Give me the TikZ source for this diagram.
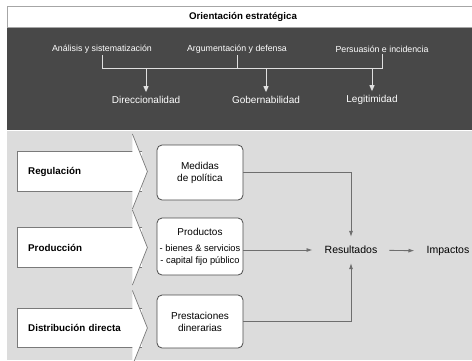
\documentclass[tikz,border=0pt]{standalone}
\usepackage{fontspec}
\setmainfont{Liberation Sans}
\usepackage{xcolor}
\definecolor{panedark}{HTML}{484848}
\definecolor{panelight}{HTML}{DCDCDC}
\definecolor{edgegray}{HTML}{7A7A7A}
\definecolor{linegray}{HTML}{6E6E6E}
\usepackage{tikz}
\usetikzlibrary{arrows.meta,positioning,calc}
\tikzset{
  ttl/.style={font=\fontsize{9.7}{11}\selectfont\bfseries, inner sep=2pt},
  tlbl/.style={text=white, font=\fontsize{8.8}{10}\selectfont, inner sep=2pt},
  olbl/.style={text=white, font=\fontsize{10}{12}\selectfont, inner sep=4pt},
  shaft/.style={fill=white, anchor=west, minimum height=39pt, text width=103pt,
                inner xsep=11pt, align=left, font=\fontsize{9.8}{11}\selectfont\bfseries},
  chev/.style={draw=edgegray, line width=0.7pt},
  rbox/.style={draw=black!70, fill=white, rounded corners=5pt, minimum width=86pt,
               inner xsep=2pt, align=center, line width=0.8pt,
               font=\fontsize{10}{12}\selectfont},
  plain/.style={font=\fontsize{10.5}{12}\selectfont, inner xsep=12pt, inner ysep=9pt},
  wline/.style={draw=white!88!black, line width=1pt},
  warr/.style={wline, -{Triangle[length=6pt,width=5pt]}},
  ar/.style={-{Latex[length=6pt,width=4pt]}, draw=linegray, line width=0.9pt},
}

\begin{document}
\begin{tikzpicture}[x=1pt, y=-1pt]
  \useasboundingbox (0,0) rectangle (472,360);
  % panels
  \fill[panedark] (7,27) rectangle (472,130);
  \fill[panelight] (7,131) rectangle (472,360);
  \draw[draw=black!35, fill=white, line width=0.7pt] (7,6) rectangle (473,27);

  % strategic orientation
  \node[ttl] (orient) at (243,17) {Orientación estratégica};
  \node[tlbl] (analisis) at (102,49) {Análisis y sistematización};
  \node[tlbl] (argum) at (237,49) {Argumentación y defensa};
  \node[tlbl] (persua) at (382,49) {Persuasión e incidencia};
  \node[olbl] (direc) at (146,100) {Direccionalidad};
  \node[olbl] (gober) at (266,100) {Gobernabilidad};
  \node[olbl] (legit) at (372,100) {Legitimidad};
  \coordinate (bar) at (0,68);
  \draw[wline] (analisis.south) -- (analisis.south |- bar) -- (persua.south |- bar) -- (persua.south);
  \draw[wline] (argum.south) -- (argum.south |- bar);
  \draw[warr] (direc.north |- bar) -- (direc.north);
  \draw[warr] (gober.north |- bar) -- (gober.north);
  \draw[warr] (legit.north |- bar) -- (legit.north);

  % instruments
  \node[shaft] (regul) at (17,171.5) {Regulación};
  \node[shaft] (produc) at (17,247.5) {Producción};
  \node[shaft] (distrib) at (17,328) {Distribución directa};
  \draw[chev] (regul.north east) -- (regul.north west) -- (regul.south west) -- (regul.south east);
  \draw[chev, fill=white] ($(regul.east)+(-10,-37.5)$) -- ($(regul.east)+(5,0)$) -- ($(regul.east)+(-10,37.5)$);
  \draw[chev] (produc.north east) -- (produc.north west) -- (produc.south west) -- (produc.south east);
  \draw[chev, fill=white] ($(produc.east)+(-10,-37.5)$) -- ($(produc.east)+(5,0)$) -- ($(produc.east)+(-10,37.5)$);
  \draw[chev] (distrib.north east) -- (distrib.north west) -- (distrib.south west) -- (distrib.south east);
  \draw[chev, fill=white] ($(distrib.east)+(-10,-37.5)$) -- ($(distrib.east)+(5,0)$) -- ($(distrib.east)+(-10,37.5)$);

  % outputs
  \node[rbox, minimum height=55pt] (medidas) at (200,172.5) {Medidas\\de política};
  \node[rbox, minimum height=57pt] (productos) at (200,246.5)
    {Productos\\[4pt]{\fontsize{9.3}{12}\selectfont - bienes \& servicios}\\{\fontsize{9.3}{12}\selectfont - capital fijo público}};
  \node[rbox, minimum height=53pt] (prestac) at (200,321.5) {Prestaciones\\dinerarias};
  \node[plain] (result) at (351,250) {Resultados};
  \node[plain] (impact) at (448,251) {Impactos};
  \draw[ar] (medidas.east) -| (result.north);
  \draw[ar] (productos.east |- result) -- (result.west);
  \draw[ar] (prestac.east) -| (result.south);
  \draw[ar] (result) -- (impact);
\end{tikzpicture}
\end{document}
